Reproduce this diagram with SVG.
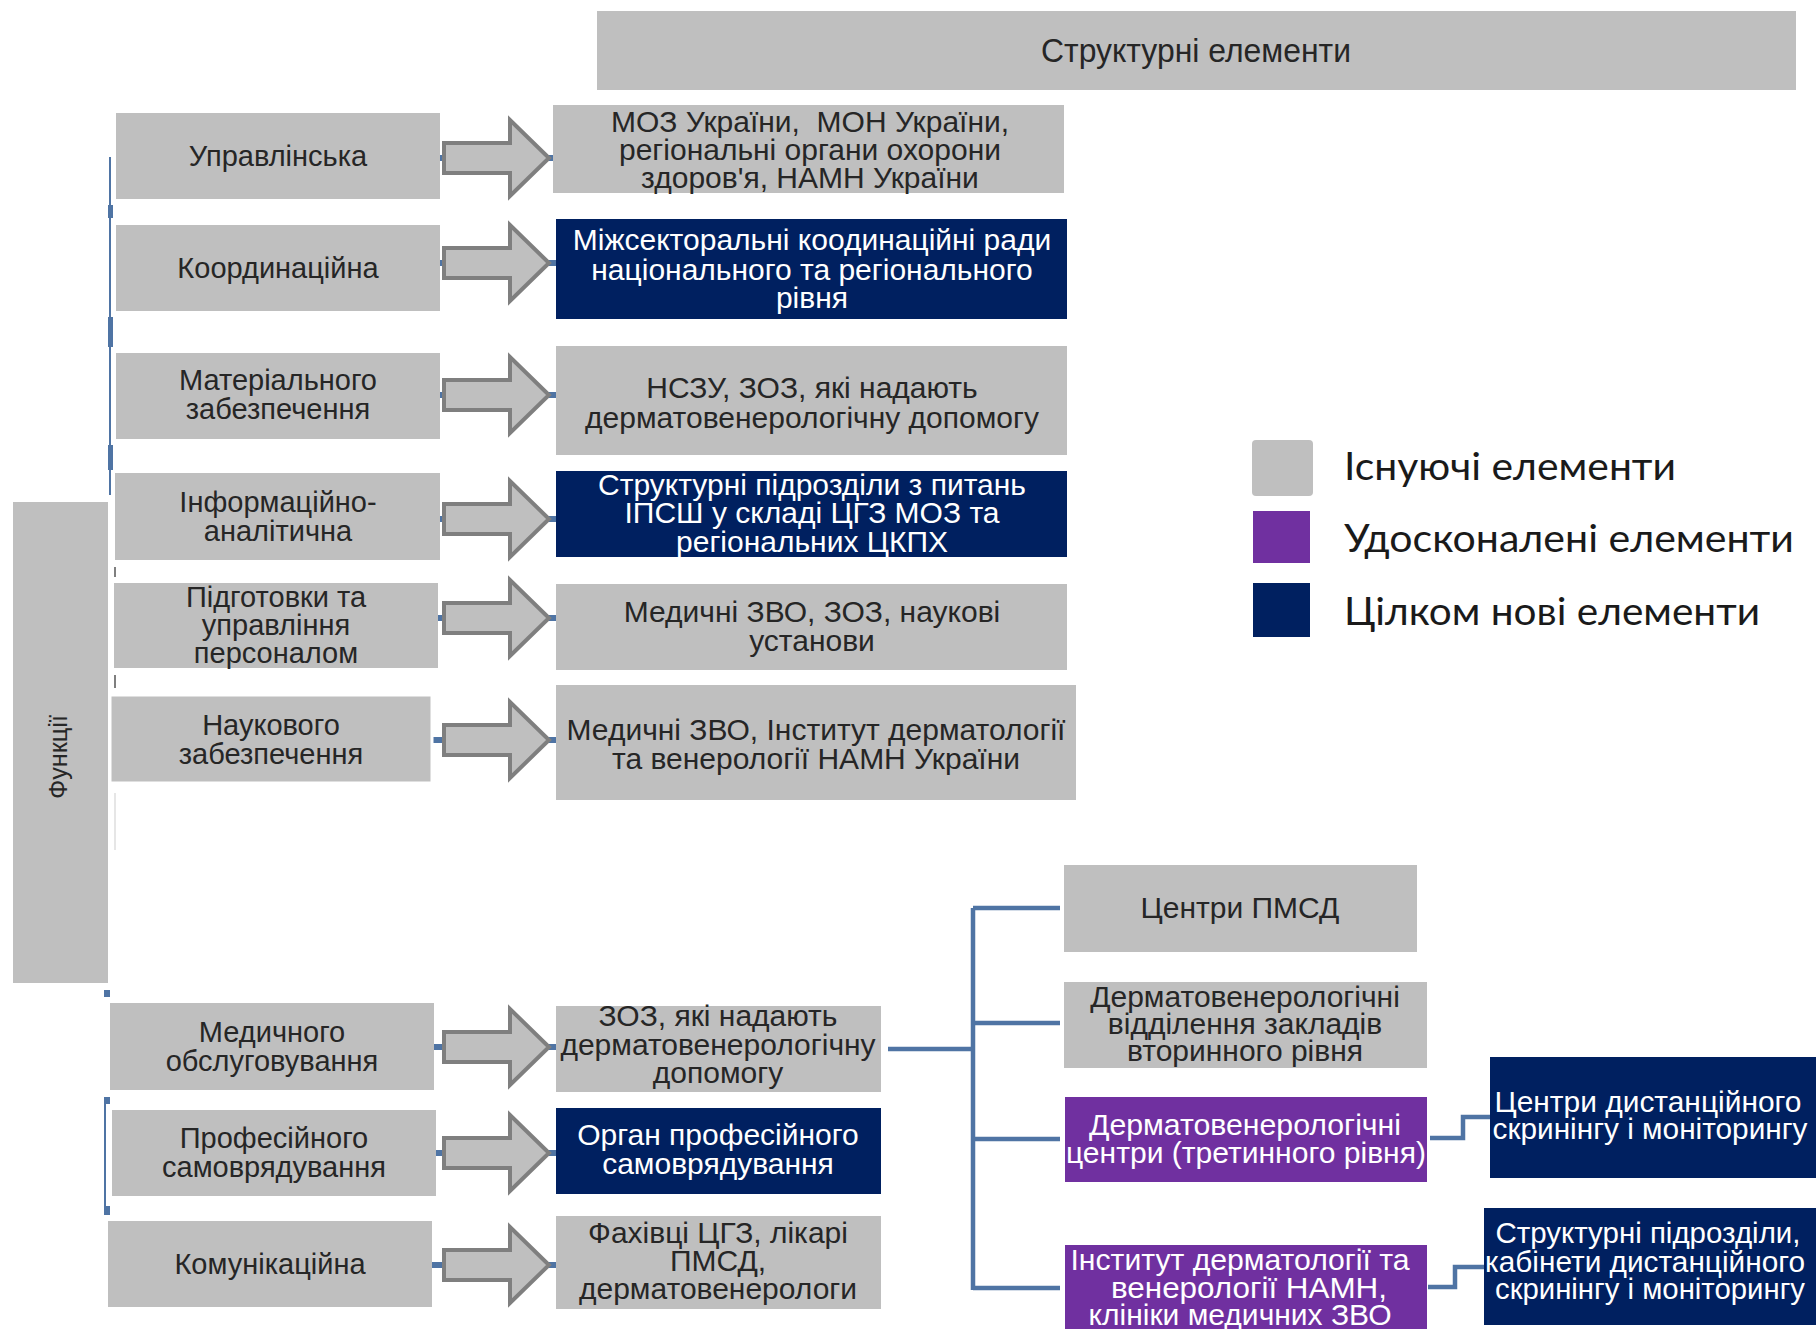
<svg xmlns="http://www.w3.org/2000/svg" width="1816" height="1329" viewBox="0 0 1816 1329">
<defs>
<style>
.g{fill:#BFBFBF}
.n{fill:#002060}
.p{fill:#7030A0}
.t{font-family:"Liberation Sans",Arial,sans-serif;font-size:29px;fill:#262626;text-anchor:middle}
.tw{font-family:"Liberation Sans",Arial,sans-serif;font-size:30px;fill:#FFFFFF;text-anchor:middle}
.t2{font-family:"Liberation Sans",Arial,sans-serif;font-size:30px;fill:#262626;text-anchor:middle}
.c{fill:none;stroke:#4F74A4;stroke-width:4.5}
.stub{fill:none;stroke:#4F74A4;stroke-width:6}
.thin{fill:none;stroke:#4F74A4;stroke-width:2}
.arr{fill:#BFBFBF;stroke:#7F7F7F;stroke-width:4;stroke-linejoin:miter}
.lg{font-family:Lato,"Open Sans",sans-serif;font-size:39px;fill:#1A1A1A}
</style>
<polygon id="arrow" points="-105,-15 -39,-15 -39,-38 0,0 -39,38 -39,15 -105,15"/>
</defs>
<rect x="0" y="0" width="1816" height="1329" fill="#FFFFFF"/>

<g id="connectors">
  <line class="thin" x1="110" y1="157" x2="110" y2="495"/>
  <rect x="108" y="205" width="5" height="13" fill="#4F74A4"/>
  <rect x="108" y="317" width="5" height="30" fill="#4F74A4"/>
  <rect x="108" y="445" width="5" height="25" fill="#4F74A4"/>
  <line x1="115" y1="567" x2="115" y2="577" stroke="#7F7F7F" stroke-width="2"/>
  <line x1="115" y1="675" x2="115" y2="688" stroke="#7F7F7F" stroke-width="2"/>
  <line x1="115" y1="793" x2="115" y2="850" stroke="#E6E6E6" stroke-width="2"/>
  <rect x="104" y="990" width="6" height="7" fill="#4F74A4"/>
  <line class="thin" x1="105" y1="1097" x2="105" y2="1215"/>
  <rect x="104" y="1097" width="6" height="7" fill="#4F74A4"/>
  <rect x="104" y="1206" width="6" height="9" fill="#4F74A4"/>
  <line class="stub" x1="436" y1="158" x2="556" y2="158"/>
  <line class="stub" x1="436" y1="263" x2="556" y2="263"/>
  <line class="stub" x1="436" y1="395" x2="556" y2="395"/>
  <line class="stub" x1="436" y1="519" x2="556" y2="519"/>
  <line class="stub" x1="436" y1="618" x2="556" y2="618"/>
  <line class="stub" x1="430" y1="740" x2="556" y2="740"/>
  <line class="stub" x1="430" y1="1047" x2="556" y2="1047"/>
  <line class="stub" x1="430" y1="1153" x2="556" y2="1153"/>
  <line class="stub" x1="430" y1="1265" x2="556" y2="1265"/>
  <use href="#arrow" class="arr" transform="translate(549,158)"/>
  <use href="#arrow" class="arr" transform="translate(549,263)"/>
  <use href="#arrow" class="arr" transform="translate(549,395)"/>
  <use href="#arrow" class="arr" transform="translate(549,519)"/>
  <use href="#arrow" class="arr" transform="translate(549,618)"/>
  <use href="#arrow" class="arr" transform="translate(549,740)"/>
  <use href="#arrow" class="arr" transform="translate(549,1047)"/>
  <use href="#arrow" class="arr" transform="translate(549,1153)"/>
  <use href="#arrow" class="arr" transform="translate(549,1265)"/>
  <path class="c" d="M888,1049 H973 M973,908 V1290 M973,908 H1060 M973,1023 H1060 M973,1139 H1060 M973,1288 H1060"/>
  <path class="c" d="M1430,1138 H1463 V1117 H1490"/>
  <path class="c" d="M1428,1287 H1455 V1267 H1484"/>
</g>

<g id="header">
  <rect class="g" x="597" y="11" width="1199" height="79"/>
  <text class="t" x="1196" y="62" textLength="310" lengthAdjust="spacingAndGlyphs" style="font-size:33px">Структурні елементи</text>
</g>

<g id="functions">
  <rect class="g" x="13" y="502" width="95" height="481"/>
  <text class="t" transform="translate(67,757) rotate(-90)" style="font-size:25px" textLength="84" lengthAdjust="spacingAndGlyphs">Функції</text>
</g>

<g id="f1"><rect class="g" x="116" y="113" width="324" height="86"/>
  <text class="t" x="278" y="166">Управлінська</text></g>
<g id="f2"><rect class="g" x="116" y="225" width="324" height="86"/>
  <text class="t" x="278" y="278">Координаційна</text></g>
<g id="f3"><rect class="g" x="116" y="353" width="324" height="86"/>
  <text class="t" x="278" y="390">Матеріального</text>
  <text class="t" x="278" y="419">забезпечення</text></g>
<g id="f4"><rect class="g" x="115" y="473" width="325" height="87"/>
  <text class="t" x="278" y="512">Інформаційно-</text>
  <text class="t" x="278" y="541">аналітична</text></g>
<g id="f5"><rect class="g" x="114" y="583" width="324" height="85"/>
  <text class="t" x="276" y="607">Підготовки та</text>
  <text class="t" x="276" y="635">управління</text>
  <text class="t" x="276" y="663">персоналом</text></g>
<g id="f6"><rect class="g" x="110" y="695" width="322" height="88" stroke="#FFFFFF" stroke-width="3"/>
  <text class="t" x="271" y="735">Наукового</text>
  <text class="t" x="271" y="764">забезпечення</text></g>
<g id="f7"><rect class="g" x="110" y="1003" width="324" height="87"/>
  <text class="t" x="272" y="1042">Медичного</text>
  <text class="t" x="272" y="1071">обслуговування</text></g>
<g id="f8"><rect class="g" x="112" y="1110" width="324" height="86"/>
  <text class="t" x="274" y="1148">Професійного</text>
  <text class="t" x="274" y="1177">самоврядування</text></g>
<g id="f9"><rect class="g" x="108" y="1221" width="324" height="86"/>
  <text class="t" x="270" y="1274">Комунікаційна</text></g>

<g id="s1"><rect class="g" x="553" y="105" width="511" height="88"/>
  <text class="t2" x="810" y="132" xml:space="preserve">МОЗ України,  МОН України,</text>
  <text class="t2" x="810" y="160">регіональні органи охорони</text>
  <text class="t2" x="810" y="188">здоров'я, НАМН України</text></g>
<g id="s2"><rect class="n" x="556" y="219" width="511" height="100"/>
  <text class="tw" x="812" y="250">Міжсекторальні коодинаційні ради</text>
  <text class="tw" x="812" y="280">національного та регіонального</text>
  <text class="tw" x="812" y="308">рівня</text></g>
<g id="s3"><rect class="g" x="556" y="346" width="511" height="109"/>
  <text class="t2" x="812" y="398">НСЗУ, ЗОЗ, які надають</text>
  <text class="t2" x="812" y="428">дерматовенерологічну допомогу</text></g>
<g id="s4"><rect class="n" x="556" y="471" width="511" height="86"/>
  <text class="tw" x="812" y="495">Структурні підрозділи з питань</text>
  <text class="tw" x="812" y="523">ІПСШ у складі ЦГЗ МОЗ та</text>
  <text class="tw" x="812" y="552">регіональних ЦКПХ</text></g>
<g id="s5"><rect class="g" x="556" y="584" width="511" height="86"/>
  <text class="t2" x="812" y="622">Медичні ЗВО, ЗОЗ, наукові</text>
  <text class="t2" x="812" y="651">установи</text></g>
<g id="s6"><rect class="g" x="556" y="685" width="520" height="115"/>
  <text class="t2" x="816" y="740">Медичні ЗВО, Інститут дерматології</text>
  <text class="t2" x="816" y="769">та венерології НАМН України</text></g>
<g id="s7"><rect class="g" x="556" y="1006" width="325" height="86"/>
  <text class="t2" x="718" y="1026">ЗОЗ, які надають</text>
  <text class="t2" x="718" y="1055">дерматовенерологічну</text>
  <text class="t2" x="718" y="1083">допомогу</text></g>
<g id="s8"><rect class="n" x="556" y="1108" width="325" height="86"/>
  <text class="tw" x="718" y="1145">Орган професійного</text>
  <text class="tw" x="718" y="1174">самоврядування</text></g>
<g id="s9"><rect class="g" x="556" y="1216" width="325" height="93"/>
  <text class="t2" x="718" y="1243">Фахівці ЦГЗ, лікарі</text>
  <text class="t2" x="718" y="1271">ПМСД,</text>
  <text class="t2" x="718" y="1299">дерматовенерологи</text></g>

<g id="r1"><rect class="g" x="1064" y="865" width="353" height="87"/>
  <text class="t2" x="1240" y="918">Центри ПМСД</text></g>
<g id="r2"><rect class="g" x="1064" y="982" width="363" height="86"/>
  <text class="t2" x="1245" y="1007">Дерматовенерологічні</text>
  <text class="t2" x="1245" y="1034">відділення закладів</text>
  <text class="t2" x="1245" y="1061">вторинного рівня</text></g>
<g id="r3"><rect class="p" x="1065" y="1097" width="362" height="85"/>
  <text class="tw" x="1245" y="1135" textLength="312" lengthAdjust="spacingAndGlyphs">Дерматовенерологічні</text>
  <text class="tw" x="1246" y="1163" textLength="360" lengthAdjust="spacingAndGlyphs">центри (третинного рівня)</text></g>
<g id="r4"><rect class="p" x="1065" y="1245" width="362" height="84"/>
  <text class="tw" x="1240" y="1270" textLength="339" lengthAdjust="spacingAndGlyphs">Інститут дерматології та</text>
  <text class="tw" x="1249" y="1298" textLength="276" lengthAdjust="spacingAndGlyphs">венерології НАМН,</text>
  <text class="tw" x="1240" y="1325" textLength="303" lengthAdjust="spacingAndGlyphs">клініки медичних ЗВО</text></g>
<g id="r5"><rect class="n" x="1490" y="1057" width="326" height="121"/>
  <text class="tw" x="1648" y="1112" textLength="307" lengthAdjust="spacingAndGlyphs">Центри дистанційного</text>
  <text class="tw" x="1650" y="1139" textLength="315" lengthAdjust="spacingAndGlyphs">скринінгу і моніторингу</text></g>
<g id="r6"><rect class="n" x="1484" y="1208" width="332" height="117"/>
  <text class="tw" x="1648" y="1243" textLength="305" lengthAdjust="spacingAndGlyphs">Структурні підрозділи,</text>
  <text class="tw" x="1645" y="1272" textLength="320" lengthAdjust="spacingAndGlyphs">кабінети дистанційного</text>
  <text class="tw" x="1650" y="1299" textLength="310" lengthAdjust="spacingAndGlyphs">скринінгу і моніторингу</text></g>

<g id="legend">
  <rect class="g" x="1252" y="440" width="61" height="56" rx="4"/>
  <rect class="p" x="1253" y="511" width="57" height="52"/>
  <rect class="n" x="1253" y="583" width="57" height="54"/>
  <text class="lg" x="1344" y="480" textLength="332" lengthAdjust="spacingAndGlyphs">Існуючі елементи</text>
  <text class="lg" x="1344" y="552" textLength="450" lengthAdjust="spacingAndGlyphs">Удосконалені елементи</text>
  <text class="lg" x="1344" y="625" textLength="416" lengthAdjust="spacingAndGlyphs">Цілком нові елементи</text>
</g>
</svg>
